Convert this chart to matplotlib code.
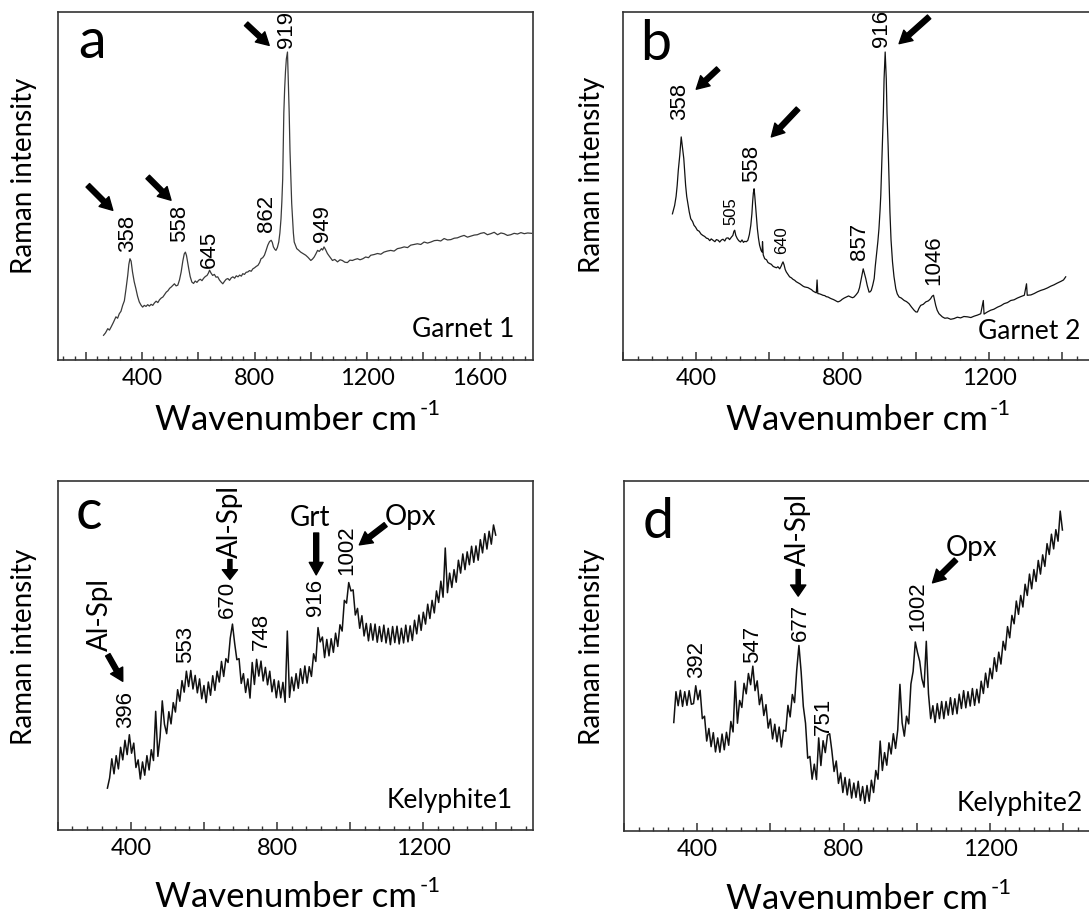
import numpy as np
import matplotlib.pyplot as plt
from matplotlib.ticker import MultipleLocator, FuncFormatter

plt.rcParams['font.family'] = ['Lato', 'DejaVu Sans']

# ---- spectra: wavenumber (cm-1) and intensity (% of panel height)
garnet1_wn = [263, 270, 278, 284, 290, 298, 307, 313, 319, 325,
              331, 337, 343, 349, 353, 357, 361, 366, 372, 378,
              384, 390, 396, 402, 408, 414, 420, 426, 432, 438,
              444, 450, 456, 462, 468, 474, 480, 486, 492, 498,
              504, 510, 515, 521, 527, 533, 539, 545, 550, 554,
              558, 562, 566, 571, 577, 583, 589, 595, 601, 607,
              613, 619, 625, 631, 636, 640, 645, 651, 657, 663,
              669, 675, 681, 687, 693, 699, 705, 711, 717, 723,
              729, 735, 741, 747, 753, 758, 764, 770, 776, 782,
              788, 794, 800, 806, 812, 818, 823, 829, 835, 841,
              847, 853, 859, 863, 867, 872, 876, 881, 886, 890,
              894, 897, 900, 902, 904, 907, 910, 913, 917, 920,
              923, 926, 929, 932, 935, 938, 941, 946, 950, 956,
              964, 972, 982, 990, 1000, 1006, 1012, 1018, 1024, 1030,
              1038, 1042, 1047, 1052, 1059, 1066, 1077, 1085, 1095, 1104,
              1112, 1121, 1130, 1139, 1148, 1157, 1166, 1175, 1185, 1195,
              1205, 1213, 1225, 1237, 1249, 1260, 1272, 1284, 1296, 1308,
              1320, 1332, 1344, 1355, 1367, 1379, 1391, 1403, 1415, 1427,
              1439, 1450, 1462, 1474, 1486, 1498, 1510, 1521, 1533, 1545,
              1557, 1569, 1581, 1592, 1604, 1616, 1628, 1640, 1652, 1664,
              1676, 1687, 1699, 1711, 1723, 1735, 1747, 1759, 1771, 1785]
garnet1_int = [7.1, 7.8, 9.0, 8.6, 9.5, 10.8, 12.4, 12.0, 13.3, 14.0,
               15.7, 17.0, 20.5, 24.3, 27.5, 29.1, 28.4, 25.3, 22.5, 20.5,
               18.3, 16.7, 15.8, 15.2, 15.7, 15.4, 15.9, 15.5, 16.0, 15.7,
               16.4, 16.9, 16.5, 17.3, 17.8, 18.1, 18.8, 19.5, 19.9, 20.6,
               21.0, 21.5, 21.9, 21.3, 21.5, 23.0, 25.3, 28.5, 30.5, 31.0,
               30.0, 28.0, 26.2, 24.0, 22.4, 22.0, 22.7, 22.3, 22.9, 23.2,
               22.8, 23.5, 24.0, 24.3, 25.0, 25.8, 25.0, 24.3, 24.6, 23.8,
               23.9, 23.0, 22.4, 21.9, 22.6, 23.2, 23.4, 22.9, 23.6, 23.9,
               23.5, 24.2, 23.9, 24.4, 24.1, 24.8, 24.6, 25.2, 25.3, 25.7,
               25.5, 26.2, 26.5, 26.9, 27.2, 28.0, 29.1, 29.4, 30.1, 31.5,
               33.0, 34.0, 34.4, 33.8, 32.5, 31.8, 31.5, 32.3, 33.9, 36.5,
               40.6, 45.5, 52.0, 62.0, 71.0, 78.0, 83.0, 86.5, 88.5, 80.0,
               71.3, 60.0, 52.0, 45.0, 40.6, 36.5, 33.9, 32.8, 32.0, 31.6,
               31.0, 30.6, 30.1, 29.5, 28.6, 29.0, 29.6, 30.5, 31.5, 31.2,
               32.0, 31.6, 32.5, 31.8, 30.6, 29.8, 28.6, 28.9, 28.2, 28.8,
               28.6, 28.1, 28.0, 28.7, 28.6, 28.9, 29.1, 28.8, 29.1, 29.6,
               29.4, 30.1, 30.3, 30.6, 30.4, 31.0, 31.3, 31.5, 31.3, 32.0,
               32.2, 32.5, 32.3, 33.0, 33.2, 33.4, 33.2, 33.9, 33.6, 33.9,
               34.3, 34.4, 34.2, 34.9, 34.5, 34.6, 35.0, 35.1, 35.5, 35.8,
               35.3, 35.6, 35.9, 36.0, 36.4, 36.6, 36.0, 36.3, 36.7, 36.0,
               36.5, 36.3, 35.8, 36.0, 36.4, 36.2, 36.6, 36.3, 36.5, 36.4]

garnet2_wn = [335, 341, 345, 348, 351, 355, 359, 362, 366, 369,
              371, 374, 378, 381, 385, 390, 394, 398, 403, 408,
              413, 418, 423, 428, 432, 437, 441, 446, 451, 455,
              460, 464, 469, 473, 478, 482, 487, 491, 496, 500,
              503, 505, 508, 512, 516, 521, 525, 529, 532, 537,
              541, 545, 549, 552, 554, 556, 558, 560, 562, 565,
              567, 570, 573, 577, 580, 581, 583, 587, 592, 596,
              601, 605, 610, 614, 619, 623, 628, 632, 635, 637,
              640, 643, 646, 651, 655, 660, 664, 669, 673, 678,
              683, 687, 692, 696, 701, 705, 710, 715, 719, 724,
              728, 730, 732, 737, 742, 746, 751, 755, 760, 765,
              769, 774, 778, 783, 787, 792, 796, 798, 804, 810,
              816, 822, 827, 831, 837, 842, 846, 849, 853, 856,
              859, 863, 867, 872, 875, 878, 882, 886, 889, 893,
              896, 899, 902, 904, 906, 908, 911, 913, 916, 919,
              921, 924, 927, 929, 932, 936, 940, 945, 949, 954,
              960, 968, 974, 981, 988, 995, 1000, 1004, 1008, 1013,
              1020, 1027, 1034, 1040, 1044, 1048, 1051, 1054, 1058, 1063,
              1068, 1072, 1079, 1086, 1095, 1104, 1113, 1122, 1131, 1141,
              1150, 1159, 1168, 1177, 1184, 1186, 1195, 1204, 1213, 1223,
              1232, 1241, 1250, 1259, 1268, 1277, 1286, 1296, 1302, 1304,
              1314, 1323, 1332, 1341, 1350, 1359, 1368, 1377, 1386, 1396,
              1403, 1409]
garnet2_int = [42.0, 44.4, 47.0, 50.2, 54.5, 58.8, 64.1, 61.5, 57.9, 53.5,
               50.2, 47.0, 44.4, 42.5, 40.6, 39.8, 38.7, 38.2, 37.3, 37.0,
               36.2, 35.8, 35.5, 35.0, 34.9, 34.3, 34.8, 34.4, 34.0, 34.6,
               34.4, 33.9, 34.5, 34.7, 34.2, 35.0, 35.1, 34.6, 35.3, 35.8,
               37.0, 37.3, 35.8, 34.9, 34.3, 33.9, 34.5, 33.8, 34.1, 34.0,
               34.4, 36.0, 38.7, 42.0, 45.4, 48.0, 49.2, 47.0, 44.4, 40.5,
               37.7, 35.0, 33.0, 31.5, 31.0, 34.0, 30.2, 29.1, 28.8, 28.0,
               27.7, 27.5, 26.9, 26.7, 26.5, 26.8, 26.2, 27.0, 27.8, 28.2,
               27.3, 26.0, 25.3, 24.5, 23.9, 23.6, 23.2, 22.9, 22.5, 22.2,
               21.9, 21.6, 21.2, 21.0, 20.9, 20.8, 20.5, 20.2, 19.8, 19.5,
               19.3, 23.0, 19.1, 19.0, 18.8, 18.6, 18.5, 18.2, 18.1, 17.8,
               17.6, 17.4, 17.2, 16.9, 16.7, 16.9, 17.2, 17.4, 17.8, 18.1,
               18.4, 18.1, 17.9, 18.1, 18.8, 19.5, 20.8, 22.4, 24.5, 26.2,
               25.0, 23.4, 21.4, 19.5, 19.6, 20.0, 21.5, 23.4, 27.0, 31.0,
               34.0, 37.7, 43.0, 47.3, 54.0, 61.7, 71.0, 80.8, 88.5, 80.8,
               71.0, 61.7, 50.0, 42.5, 34.5, 28.2, 24.0, 20.5, 19.0, 18.1,
               17.8, 17.1, 16.8, 16.2, 15.2, 14.3, 13.8, 13.8, 14.8, 15.7,
               16.0, 16.7, 17.0, 17.6, 18.3, 18.6, 17.2, 15.7, 14.3, 13.3,
               12.8, 12.4, 12.0, 12.1, 11.7, 11.9, 12.3, 12.1, 12.5, 12.4,
               12.2, 12.6, 12.9, 13.3, 17.1, 13.2, 13.8, 14.3, 14.6, 15.2,
               15.6, 16.2, 16.5, 17.1, 17.3, 17.8, 18.2, 18.6, 21.9, 18.6,
               18.7, 19.1, 19.6, 20.0, 20.3, 20.7, 21.2, 21.6, 22.1, 22.6,
               23.0, 23.9]

# kelyphite spectra sampled every 6 cm-1 starting at 336 cm-1
kely_start = 336
kely_step = 6
kely1_int = [12.0, 14.9, 20.4, 16.1, 21.3, 17.5, 23.7, 20.1, 25.7, 21.6,
             27.3, 22.0, 24.9, 17.9, 20.1, 14.6, 19.5, 15.7, 21.3, 17.2,
             23.0, 19.9, 34.0, 21.1, 26.6, 37.0, 30.3, 27.6, 33.9, 30.4,
             36.5, 33.8, 40.2, 36.9, 42.8, 39.5, 45.5, 41.1, 45.7, 40.4,
             44.3, 39.3, 43.3, 37.6, 41.4, 36.5, 42.4, 38.6, 44.2, 40.0,
             45.5, 42.4, 48.3, 44.0, 49.1, 48.0, 55.0, 59.0, 53.5, 48.8,
             49.1, 42.0, 44.8, 39.4, 43.3, 37.8, 48.0, 41.7, 48.9, 44.1,
             48.4, 42.7, 46.6, 41.6, 45.5, 39.6, 43.1, 37.9, 42.7, 37.9,
             42.3, 36.6, 57.0, 38.0, 43.8, 39.9, 44.8, 40.6, 46.2, 42.0,
             47.0, 42.1, 46.8, 44.0, 50.5, 48.3, 58.0, 53.9, 55.3, 49.4,
             54.6, 49.9, 54.8, 50.9, 56.4, 52.6, 58.8, 57.0, 65.8, 65.0,
             70.9, 68.5, 68.8, 61.6, 63.5, 57.8, 61.4, 55.6, 59.2, 54.2,
             59.1, 54.4, 59.0, 53.8, 58.3, 54.0, 58.7, 53.6, 57.8, 53.1,
             58.3, 53.7, 58.4, 53.3, 57.8, 53.6, 58.7, 53.9, 58.5, 54.3,
             60.1, 56.2, 61.6, 57.2, 62.4, 59.0, 64.7, 60.6, 65.8, 62.2,
             68.5, 65.2, 71.3, 66.7, 80.8, 68.0, 73.6, 69.5, 74.6, 71.0,
             77.3, 73.6, 79.1, 74.6, 79.7, 76.0, 81.3, 76.7, 81.4, 77.3,
             83.2, 79.4, 84.9, 80.5, 85.6, 81.9, 87.4, 84.5]
kely2_int = [31.0, 39.8, 35.8, 40.2, 35.6, 39.8, 35.9, 40.1, 36.2, 36.4,
             41.5, 37.5, 40.2, 32.1, 32.8, 25.7, 29.3, 24.1, 28.1, 22.6,
             26.6, 22.5, 27.7, 23.2, 28.2, 24.5, 31.3, 28.3, 42.8, 30.8,
             37.3, 35.3, 42.2, 39.2, 45.0, 41.8, 47.1, 40.1, 42.9, 36.1,
             39.0, 33.0, 36.1, 29.4, 32.0, 26.3, 30.5, 25.5, 29.7, 24.0,
             28.8, 28.5, 35.9, 32.6, 39.0, 36.7, 46.0, 53.0, 45.5, 35.6,
             30.8, 20.8, 21.3, 14.8, 19.1, 14.7, 26.6, 18.7, 25.8, 22.4,
             27.4, 27.8, 22.9, 17.0, 20.0, 13.6, 16.6, 11.0, 15.3, 10.3,
             14.8, 9.4, 13.7, 9.6, 14.2, 8.7, 12.7, 7.9, 13.0, 8.5,
             14.5, 11.0, 17.3, 14.8, 25.7, 17.3, 22.4, 18.8, 25.2, 22.0,
             27.8, 23.6, 28.9, 41.9, 30.9, 27.1, 32.8, 30.6, 42.0, 45.6,
             54.0, 51.0, 48.5, 43.5, 41.1, 54.2, 39.2, 32.1, 35.8, 31.0,
             36.4, 32.1, 37.0, 32.1, 37.0, 33.1, 38.1, 33.3, 37.8, 33.5,
             39.1, 35.0, 40.1, 35.2, 39.8, 35.7, 40.7, 35.9, 40.5, 36.6,
             42.8, 39.3, 45.1, 41.0, 46.5, 43.5, 49.5, 45.6, 51.1, 47.7,
             54.2, 51.7, 58.4, 55.2, 61.6, 59.2, 65.7, 61.9, 67.3, 64.0,
             70.5, 67.3, 73.4, 69.2, 74.7, 71.3, 77.3, 73.4, 78.9, 75.6,
             82.1, 79.0, 84.8, 80.6, 86.1, 82.8, 91.4, 86.0]

# peak labels
a_peaks = ['358', '558', '645', '862', '919', '949']
b_peaks = ['358', '505', '558', '640', '857', '916', '1046']
c_peaks = ['396', '553', '670', '748', '916', '1002']
d_peaks = ['392', '547', '677', '751', '1002']

# ---- label placement (data coords of each panel)
a_pos = [(348, 31.0), (535, 33.9), (638, 26.4), (842, 36.8), (915, 89.7), (1043, 33.9)]
b_pos = [(354, 69.0), (494, 38.8), (550, 51.1), (634, 30.5), (845, 28.7), (906, 89.9), (1050, 21.6)]
b_size = [16, 12, 16, 12, 16, 16, 16]
c_pos = [(385, 29.2), (549, 47.9), (663, 60.7), (758, 51.6), (906, 61.3), (990, 73.1)]
d_pos = [(398, 43.7), (552, 48.0), (681, 54.3), (746, 27.4), (1002, 57.1)]

W, H = 1089, 914
fig = plt.figure(figsize=(W / 100, H / 100), dpi=100)


def px_axes(left, top, right, bottom):
    return fig.add_axes([left / W, 1 - bottom / H, (right - left) / W, (bottom - top) / H])


def style(ax, xmin, xmax):
    ax.set_xlim(xmin, xmax)
    ax.set_ylim(0, 100)
    ax.set_yticks([])
    ax.xaxis.set_major_locator(MultipleLocator(200))
    ax.xaxis.set_minor_locator(MultipleLocator(40))
    ax.xaxis.set_major_formatter(FuncFormatter(lambda v, p: '%d' % v if v % 400 == 0 else ''))
    ax.tick_params(axis='x', which='major', direction='in', length=6, width=1.1,
                   labelsize=17, pad=6, color='#333333')
    ax.tick_params(axis='x', which='minor', direction='in', length=3, width=1.0, color='#333333')
    for s in ax.spines.values():
        s.set_linewidth(1.2)
        s.set_color('#333333')


def labels(ax, letter, name, lx, ly, nx, ny, xb, yb, ylx, yly):
    ax.text(lx, ly, letter, transform=ax.transAxes, fontsize=40, ha='left', va='baseline')
    ax.text(nx, ny, name, transform=ax.transAxes, fontsize=19, ha='right', va='baseline')
    xl = ax.text(xb, yb, 'Wavenumber cm', transform=ax.transAxes, fontsize=25,
                 ha='center', va='baseline', clip_on=False)
    ax.annotate('-1', xy=(1.0, 0.66), xycoords=xl, xytext=(1.5, 0), textcoords='offset points',
                fontsize=16, ha='left', va='baseline')
    ax.text(ylx, yly, 'Raman intensity', transform=ax.transAxes, fontsize=20,
            rotation=90, ha='center', va='center')


def peak_text(ax, texts, pos, sizes=None):
    for i, (t, (x, y)) in enumerate(zip(texts, pos)):
        fs = sizes[i] if sizes else 16
        ax.text(x, y, t, rotation=90, ha='center', va='bottom', fontsize=fs,
                family=['Liberation Sans', 'DejaVu Sans'])


def arrow(ax, tail, tip, w=3.6, hw=10, hl=9):
    ax.annotate('', xy=tip, xytext=tail,
                arrowprops=dict(facecolor='black', edgecolor='black', width=w,
                                headwidth=hw, headlength=hl, shrink=0))


# ---- a: Garnet 1
ax = px_axes(57.7, 12, 533, 360)
style(ax, 100, 1790)
ax.plot(garnet1_wn, garnet1_int, color='#3a3a3a', lw=0.9)
peak_text(ax, a_peaks, a_pos)
arrow(ax, (207, 50.2), (296, 43.0))
arrow(ax, (420, 52.6), (503, 45.9))
arrow(ax, (770, 96.6), (852, 90.4))
labels(ax, 'a', 'Garnet 1', 0.043, 0.868, 0.960, 0.066, 0.481, -0.201, -0.071, 0.529)

# ---- b: Garnet 2
ax = px_axes(623, 12, 1110, 360)
style(ax, 200, 1530)
ax.plot(garnet2_wn, garnet2_int, color='#111111', lw=0.9)
peak_text(ax, b_peaks, b_pos, b_size)
arrow(ax, (460, 83.7), (400, 77.8))
arrow(ax, (678, 72.2), (605, 64.1))
arrow(ax, (1036, 98.6), (954, 90.9))
labels(ax, 'b', 'Garnet 2', 0.035, 0.862, 0.940, 0.061, 0.48, -0.201, -0.0637, 0.532)

# ---- c: Kelyphite1
ax = px_axes(57.7, 481, 533, 830)
style(ax, 200, 1500)
ax.plot(kely_start + kely_step * np.arange(len(kely1_int)), kely1_int, color='#111111', lw=1.1)
peak_text(ax, c_peaks, c_pos)
ax.text(316, 51.3, 'Al-Spl', rotation=90, ha='center', va='bottom', fontsize=20)
ax.text(671, 77.9, 'Al-Spl', rotation=90, ha='center', va='bottom', fontsize=20)
arrow(ax, (337, 50.2), (378, 42.6))
arrow(ax, (671, 77.5), (671, 71.8), w=3, hw=11, hl=7)
ax.text(889, 87.1, 'Grt', ha='center', va='baseline', fontsize=20)
arrow(ax, (907, 85.1), (907, 73.1))
ax.text(1165, 87.5, 'Opx', ha='center', va='baseline', fontsize=20)
arrow(ax, (1097, 87.5), (1025, 81.7))
labels(ax, 'c', 'Kelyphite1', 0.0385, 0.863, 0.958, 0.063, 0.481, -0.222, -0.071, 0.524)

# ---- d: Kelyphite2
ax = px_axes(624, 481, 1110, 831)
style(ax, 200, 1528)
ax.plot(kely_start + kely_step * np.arange(len(kely2_int)), kely2_int, color='#111111', lw=1.1)
peak_text(ax, d_peaks, d_pos)
ax.text(675, 75.7, 'Al-Spl', rotation=90, ha='center', va='bottom', fontsize=20)
arrow(ax, (676, 74.7), (676, 67.1), w=3, hw=11, hl=8)
ax.text(1151, 78.6, 'Opx', ha='center', va='baseline', fontsize=20)
arrow(ax, (1107, 77.5), (1043, 70.9))
labels(ax, 'd', 'Kelyphite2', 0.039, 0.837, 0.944, 0.057, 0.48, -0.222, -0.0658, 0.526)

fig.savefig('out.png', dpi=100)
